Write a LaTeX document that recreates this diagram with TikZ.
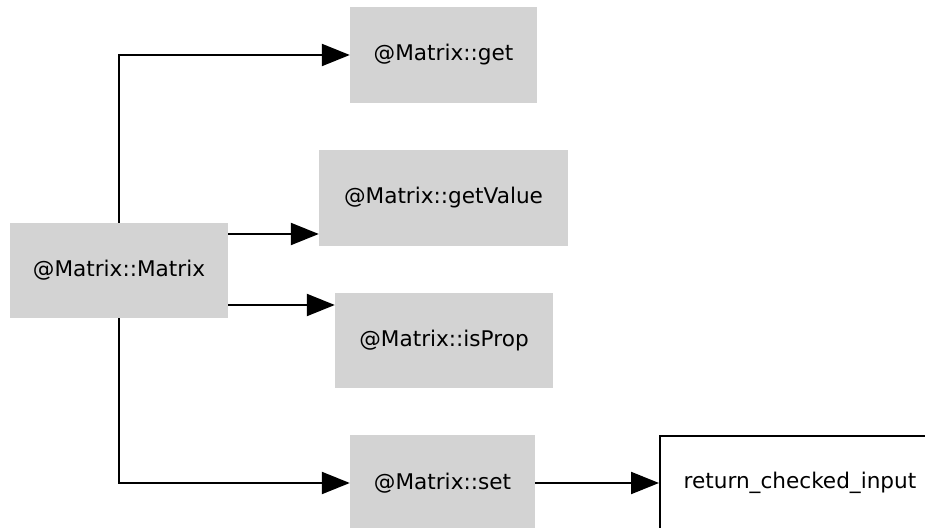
\documentclass[tikz,border=0pt]{standalone}
\usepackage{fontspec}
\setmainfont{DejaVu Sans}
\usetikzlibrary{arrows.meta}
\definecolor{boxgray}{RGB}{211,211,211}

\begin{document}
\begin{tikzpicture}[
    x=1pt, y=1pt,
    func/.style={rectangle, fill=boxgray, inner sep=0pt, font=\fontsize{21.6}{26}\selectfont},
    ext/.style={rectangle, draw, fill=white, line width=2pt, inner sep=0pt, font=\fontsize{21.6}{26}\selectfont},
    el/.style={-{Triangle[length=28pt, width=22pt]}, line width=2.2pt}
  ]
    \useasboundingbox (0,0) rectangle (925,527);
    \clip (0,0) rectangle (925,527);

    % nodes
    \node[func, minimum width=218, minimum height=95] (matrix)   at (119,256.5) {@Matrix::Matrix};
    \node[func, minimum width=187, minimum height=96] (get)      at (443.5,472) {@Matrix::get};
    \node[func, minimum width=249, minimum height=96] (getvalue) at (443.5,329) {@Matrix::getValue};
    \node[func, minimum width=218, minimum height=95] (isprop)   at (444,186.5) {@Matrix::isProp};
    \node[func, minimum width=185, minimum height=96] (set)      at (442.5,44) {@Matrix::set};
    \node[ext, anchor=west, minimum width=280, minimum height=94] (checked) at (659,44) {return\_checked\_input};

    % calls
    \draw[el] (matrix.north) |- (get.west);
    \draw[el] ([yshift=36.5pt]matrix.east) -- ([yshift=36.5pt]matrix.east -| getvalue.west);
    \draw[el] ([yshift=-34.5pt]matrix.east) -- ([yshift=-34.5pt]matrix.east -| isprop.west);
    \draw[el] (matrix.south) |- (set.west);
    \draw[el] (set.east) -- (checked.west);
  \end{tikzpicture}
\end{document}
